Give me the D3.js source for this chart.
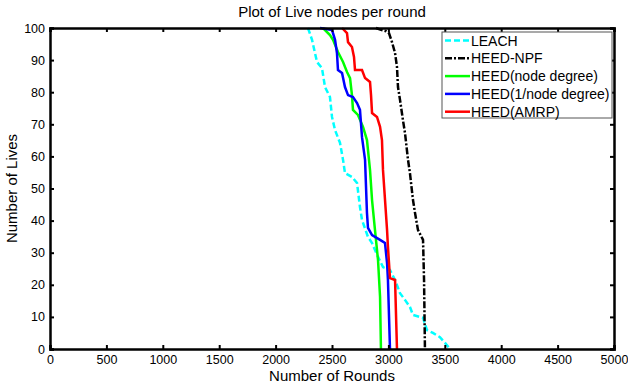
<!DOCTYPE html>
<html>
<head>
<meta charset="utf-8">
<script src="https://cdn.jsdelivr.net/npm/d3@7"></script>
<style>
  body { margin: 0; background: #fff; }
  svg text { font-family: "Liberation Sans", Arial, sans-serif; fill: #000; }
</style>
</head>
<body>
<div id="chart"></div>
<script>
// [rounds, live nodes]
const leach = [[2287,100],[2323,96.3],[2367,89.4],[2411,87.5],[2438,81.6],[2482,78.5],[2500,72.3],[2527,68.2],[2571,64.2],[2598,58.9],[2615,54.8],[2677,53.6],[2722,51.7],[2748,44.2],[2766,40.2],[2819,34.9],[2855,33],[2908,28.7],[2952,25.5],[3014,24.6],[3059,21.5],[3103,17.4],[3147,15.3],[3191,13.1],[3218,10.6],[3307,9.7],[3342,5.9],[3395,5],[3457,3.7],[3502,1.9],[3546,0]];
const heedNpf = [[2890,100],[2934,99.4],[2979,99],[3005,98.4],[3032,95.6],[3059,92.2],[3076,87.9],[3085,81.6],[3103,77.6],[3129,71.3],[3147,67.3],[3174,58.9],[3191,54.8],[3218,46.4],[3236,42.4],[3262,37.1],[3307,34],[3316,21.5],[3324,0]];
const heedDeg = [[2420,100],[2482,97.8],[2509,96.3],[2553,92.5],[2598,89.4],[2633,86.3],[2660,84.4],[2677,79.1],[2686,74.5],[2730,72.9],[2775,69.2],[2810,65.1],[2837,55.8],[2855,46.4],[2881,37.1],[2908,27.7],[2926,16.2],[2934,0]];
const heedInvDeg = [[2394,100],[2500,99.4],[2527,96.3],[2544,92.2],[2553,86.9],[2589,86],[2615,81.6],[2642,79.1],[2686,78.5],[2722,76.6],[2748,74.5],[2766,66],[2793,58.9],[2810,42.4],[2819,37.7],[2855,35.5],[2926,34],[2970,33],[2988,26.8],[2996,21.5],[3014,0]];
const heedAmrp = [[2589,100],[2633,98.4],[2642,95.6],[2677,94.1],[2695,91],[2704,86.9],[2766,86.9],[2793,84.4],[2837,83.2],[2846,79.1],[2855,73.5],[2899,72.3],[2926,69.2],[2943,65.1],[2952,55.8],[2988,37.1],[2996,31.8],[3014,22.1],[3059,21.5],[3076,0]];

const seriesNames = ["LEACH", "HEED-NPF", "HEED(node degree)", "HEED(1/node degree)", "HEED(AMRP)"];
const xTicks = [0,500,1000,1500,2000,2500,3000,3500,4000,4500,5000];
const yTicks = [0,10,20,30,40,50,60,70,80,90,100];

const width = 628, height = 388;
const margin = {top: 28, right: 14, bottom: 39, left: 50};

const svg = d3.select("#chart").append("svg")
    .attr("width", width)
    .attr("height", height);

const x = d3.scaleLinear().domain([0, 5000]).range([margin.left, width - margin.right]);
const y = d3.scaleLinear().domain([0, 100]).range([height - margin.bottom, margin.top]);

// стиль кожної серії
const styles = [
    {data: leach, color: "#00ffff", dash: "6,3"},
    {data: heedNpf, color: "#000000", dash: "7,2,2,2"},
    {data: heedDeg, color: "#00ff00", dash: null},
    {data: heedInvDeg, color: "#0000ff", dash: null},
    {data: heedAmrp, color: "#ff0000", dash: null}
];

const line = d3.line().x(d => x(d[0])).y(d => y(d[1]));

const plot = svg.append("g");
styles.forEach(s => {
    plot.append("path")
        .datum(s.data)
        .attr("fill", "none")
        .attr("stroke", s.color)
        .attr("stroke-width", 2.5)
        .attr("stroke-dasharray", s.dash)
        .attr("d", line);
});

// осі
svg.append("g")
    .attr("transform", `translate(0,${y(0)})`)
    .call(d3.axisBottom(x).tickValues(xTicks).tickSize(-4).tickPadding(6).tickFormat(d3.format("d")));
svg.append("g")
    .attr("transform", `translate(${x(0)},0)`)
    .call(d3.axisLeft(y).tickValues(yTicks).tickSize(-4).tickPadding(5));
svg.append("g")
    .attr("transform", `translate(0,${y(100)})`)
    .call(d3.axisTop(x).tickValues(xTicks).tickSize(-4).tickFormat(""));
svg.append("g")
    .attr("transform", `translate(${x(5000)},0)`)
    .call(d3.axisRight(y).tickValues(yTicks).tickSize(-4).tickFormat(""));

svg.selectAll(".domain").attr("stroke", "#000").attr("stroke-width", 2.5);
svg.selectAll(".tick line").attr("stroke", "#000").attr("stroke-width", 2);
svg.selectAll(".tick text").style("font-size", "12.5px");

svg.append("text")
    .attr("x", (x(0) + x(5000)) / 2)
    .attr("y", 17)
    .attr("text-anchor", "middle")
    .style("font-size", "15px")
    .text("Plot of Live nodes per round");

svg.append("text")
    .attr("x", (x(0) + x(5000)) / 2)
    .attr("y", 381)
    .attr("text-anchor", "middle")
    .style("font-size", "15px")
    .text("Number of Rounds");

svg.append("text")
    .attr("transform", `translate(17,${(y(0) + y(100)) / 2}) rotate(-90)`)
    .attr("text-anchor", "middle")
    .style("font-size", "15px")
    .text("Number of Lives");

// легенда
const legend = svg.append("g").attr("transform", "translate(442,32)");
legend.append("rect")
    .attr("width", 170).attr("height", 86)
    .attr("fill", "#fff").attr("stroke", "#555").attr("stroke-width", 1);
styles.forEach((s, i) => {
    const ly = 8.5 + i * 17.8;
    legend.append("line")
        .attr("x1", 3).attr("x2", 28).attr("y1", ly).attr("y2", ly)
        .attr("stroke", s.color).attr("stroke-width", 2.5)
        .attr("stroke-dasharray", s.dash);
    legend.append("text")
        .attr("x", 29).attr("y", ly + 5)
        .style("font-size", "14px")
        .text(seriesNames[i]);
});
</script>
</body>
</html>
